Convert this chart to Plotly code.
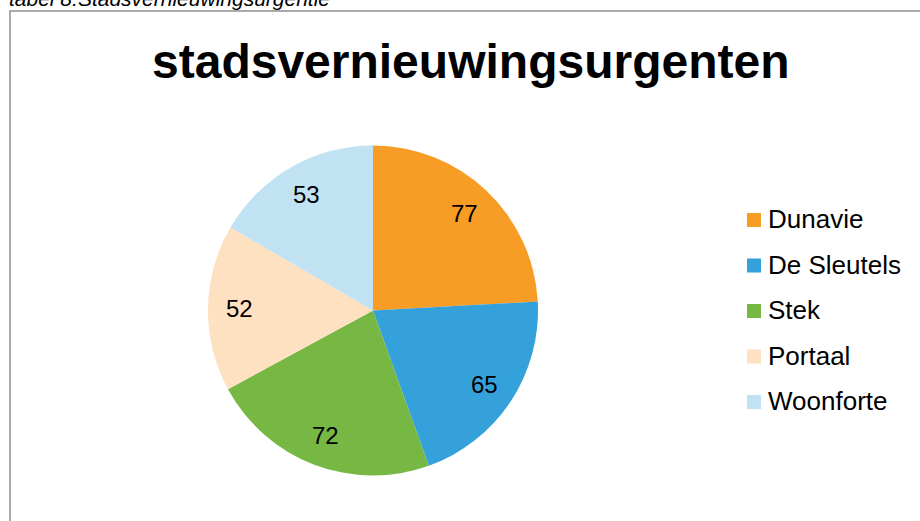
import math
import plotly.graph_objects as go

# ---- data ----
labels = ["Dunavie", "De Sleutels", "Stek", "Portaal", "Woonforte"]
values = [77, 65, 72, 52, 53]
colors = ["#F79D25", "#35A1DB", "#77B743", "#FDE1C0", "#C1E2F3"]
title_text = "stadsvernieuwingsurgenten"
caption_text = "tabel 8:Stadsvernieuwingsurgentie"

W, H = 920, 521
FONT = "Arial, Liberation Sans, sans-serif"

# pie geometry (pixels)
cx, cy, R = 373, 310.5, 165

def px(x):
    return x / W

def py(y):
    return 1 - y / H

fig = go.Figure()
fig.add_trace(go.Pie(
    labels=labels, values=values, sort=False, direction="clockwise", rotation=0,
    marker=dict(colors=colors, line=dict(width=0)),
    textinfo="none", showlegend=False,
    domain=dict(x=[px(cx - R), px(cx + R)], y=[py(cy + R), py(cy - R)]),
))

annotations = []
shapes = []

# data labels at ~0.81R along each slice bisector
total = sum(values)
cum = 0
for v in values:
    mid = (cum + v / 2) / total * 2 * math.pi
    cum += v
    lx = cx + 0.81 * R * math.sin(mid)
    ly = cy - 0.81 * R * math.cos(mid)
    annotations.append(dict(x=px(lx), y=py(ly), xref="paper", yref="paper",
                            text=str(v), showarrow=False, xanchor="center", yanchor="middle",
                            font=dict(family=FONT, size=24, color="#000000")))

# legend (manual)
for i, (lab, col) in enumerate(zip(labels, colors)):
    yc = 220 + 45.5 * i
    shapes.append(dict(type="rect", xref="paper", yref="paper",
                       x0=px(747), x1=px(761), y0=py(yc + 7), y1=py(yc - 7),
                       fillcolor=col, line=dict(width=0)))
    annotations.append(dict(x=px(766), y=py(yc - 1), xref="paper", yref="paper",
                            text=lab, showarrow=False, xanchor="left", yanchor="middle",
                            font=dict(family=FONT, size=26, color="#000000")))

# title
annotations.append(dict(x=px(470), y=py(62), xref="paper", yref="paper",
                        text="<b>" + title_text + "</b>", showarrow=False,
                        xanchor="center", yanchor="middle",
                        font=dict(family=FONT, size=48, color="#000000")))

# caption (partly cut off at top, as in the reference)
annotations.append(dict(x=px(7), y=py(-1), xref="paper", yref="paper",
                        text="<i>" + caption_text + "</i>", showarrow=False,
                        xanchor="left", yanchor="middle",
                        font=dict(family=FONT, size=21, color="#000000")))

# chart border
shapes.append(dict(type="rect", xref="paper", yref="paper",
                   x0=px(10), x1=px(W + 5), y0=py(H + 5), y1=py(11),
                   line=dict(color="#8E8E8E", width=1.5), fillcolor="rgba(0,0,0,0)"))

fig.update_layout(
    width=W, height=H, margin=dict(l=0, r=0, t=0, b=0),
    paper_bgcolor="#FFFFFF", plot_bgcolor="#FFFFFF",
    annotations=annotations, shapes=shapes, showlegend=False,
)

fig.write_html("out.html", config={"displayModeBar": False},
               post_script="document.body.style.margin='0';document.body.style.overflow='hidden';")
